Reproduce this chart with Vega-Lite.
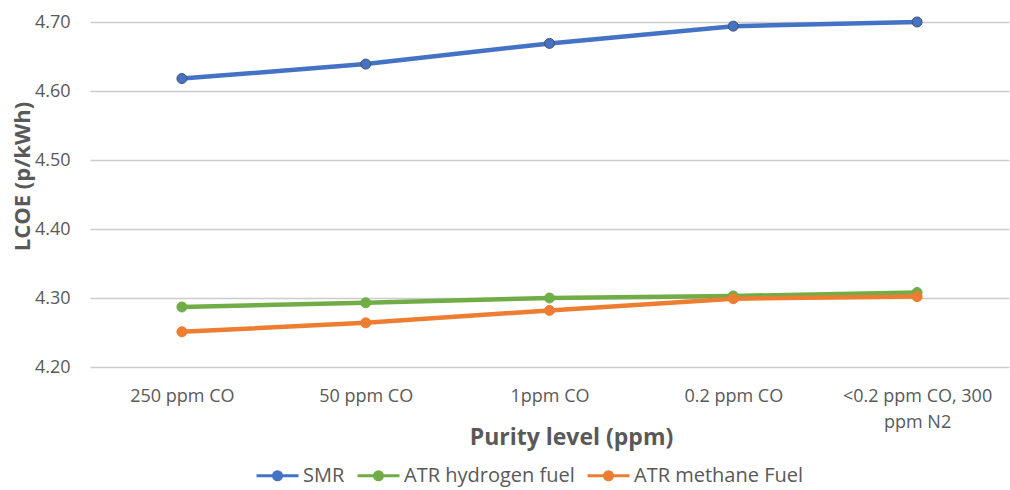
{
  "$schema": "https://vega.github.io/schema/vega-lite/v6.json",
  "width": 919,
  "height": 345,
  "autosize": {"type": "none"},
  "padding": {"left": 90, "top": 22, "right": 1, "bottom": 123},
  "background": "white",
  "config": {
    "view": {"stroke": null},
    "font": "Open Sans",
    "axis": {"labelColor": "#595959", "titleColor": "#595959", "labelFont": "Open Sans", "titleFont": "Open Sans"}
  },
  "data": {
    "values": [
      {"purity": "250 ppm CO", "series": "SMR", "lcoe": 4.618},
      {"purity": "50 ppm CO", "series": "SMR", "lcoe": 4.639},
      {"purity": "1ppm CO", "series": "SMR", "lcoe": 4.669},
      {"purity": "0.2 ppm CO", "series": "SMR", "lcoe": 4.694},
      {"purity": "<0.2 ppm CO, 300 ppm N2", "series": "SMR", "lcoe": 4.700},
      {"purity": "250 ppm CO", "series": "ATR hydrogen fuel", "lcoe": 4.287},
      {"purity": "50 ppm CO", "series": "ATR hydrogen fuel", "lcoe": 4.293},
      {"purity": "1ppm CO", "series": "ATR hydrogen fuel", "lcoe": 4.300},
      {"purity": "0.2 ppm CO", "series": "ATR hydrogen fuel", "lcoe": 4.303},
      {"purity": "<0.2 ppm CO, 300 ppm N2", "series": "ATR hydrogen fuel", "lcoe": 4.308},
      {"purity": "250 ppm CO", "series": "ATR methane Fuel", "lcoe": 4.251},
      {"purity": "50 ppm CO", "series": "ATR methane Fuel", "lcoe": 4.264},
      {"purity": "1ppm CO", "series": "ATR methane Fuel", "lcoe": 4.282},
      {"purity": "0.2 ppm CO", "series": "ATR methane Fuel", "lcoe": 4.299},
      {"purity": "<0.2 ppm CO, 300 ppm N2", "series": "ATR methane Fuel", "lcoe": 4.302}
    ]
  },
  "encoding": {
    "x": {
      "field": "purity",
      "type": "nominal",
      "sort": ["250 ppm CO", "50 ppm CO", "1ppm CO", "0.2 ppm CO", "<0.2 ppm CO, 300 ppm N2"],
      "scale": {"type": "point", "padding": 0.5},
      "axis": {
        "title": "Purity level (ppm)",
        "titleFontSize": 23,
        "titleFontWeight": "bold",
        "titleX": 481,
        "titleY": 70,
        "titleBaseline": "middle",
        "labelAngle": 0,
        "labelFontSize": 18,
        "labelPadding": 20,
        "labelLineHeight": 26,
        "labelExpr": "datum.value == '<0.2 ppm CO, 300 ppm N2' ? ['<0.2 ppm CO, 300', 'ppm N2'] : datum.value",
        "ticks": false,
        "domain": false,
        "grid": false
      }
    },
    "y": {
      "field": "lcoe",
      "type": "quantitative",
      "scale": {"domain": [4.2, 4.7], "nice": false, "zero": false},
      "axis": {
        "title": "LCOE (p/kWh)",
        "titleFontSize": 22,
        "titleFontWeight": "bold",
        "titleX": -68,
        "titleY": 154,
        "titleAngle": -90,
        "titleBaseline": "middle",
        "titleAlign": "center",
        "values": [4.2, 4.3, 4.4, 4.5, 4.6, 4.7],
        "format": ".2f",
        "labelFontSize": 18,
        "labelPadding": 20,
        "ticks": false,
        "domain": false,
        "grid": true,
        "gridColor": "#CCCCCC",
        "gridWidth": 1.5
      }
    },
    "color": {
      "field": "series",
      "type": "nominal",
      "sort": ["SMR", "ATR hydrogen fuel", "ATR methane Fuel"],
      "scale": {"domain": ["SMR", "ATR hydrogen fuel", "ATR methane Fuel"], "range": ["#4472C4", "#70AD47", "#ED7D31"]},
      "legend": {
        "title": null,
        "orient": "none",
        "direction": "horizontal",
        "legendX": 165,
        "legendY": 431,
        "symbolType": "M-1,0H1M0.19,0A0.19,0.19 0 1,1 -0.19,0A0.19,0.19 0 1,1 0.19,0Z",
        "symbolSize": 1764,
        "symbolStrokeWidth": 3,
        "labelFontSize": 20,
        "labelLimit": 400,
        "labelColor": "#595959",
        "labelFont": "Open Sans",
        "labelOffset": 3,
        "columnPadding": 6,
        "encode": {
          "symbols": {
            "update": {
              "fill": {"scale": "color", "field": "value"},
              "stroke": {"scale": "color", "field": "value"},
              "strokeWidth": {"value": 3},
              "opacity": {"value": 1}
            }
          }
        }
      }
    }
  },
  "layer": [
    {"mark": {"type": "line", "strokeWidth": 4.5}},
    {
      "mark": {"type": "point", "filled": true, "size": 100, "opacity": 1, "strokeWidth": 1},
      "encoding": {
        "stroke": {
          "field": "series",
          "type": "nominal",
          "scale": {"domain": ["SMR", "ATR hydrogen fuel", "ATR methane Fuel"], "range": ["#44546A", "#70AD47", "#ED7D31"]},
          "legend": null
        }
      }
    }
  ]
}
